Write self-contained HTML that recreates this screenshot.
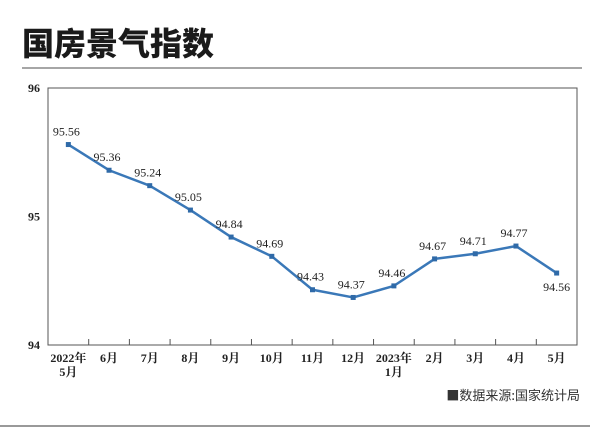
<!DOCTYPE html>
<html><head><meta charset="utf-8"><style>
body{margin:0;background:#fff;width:600px;height:429px;overflow:hidden}
svg{display:block}
</style></head><body>
<svg width="600" height="429" viewBox="0 0 600 429">
<text x="22" y="55" font-family="'Noto Sans CJK SC','WenQuanYi Zen Hei',sans-serif" font-weight="900" font-size="32" fill="#1a1a1a">国房景气指数</text>
<line x1="22" y1="68" x2="582" y2="68" stroke="#888" stroke-width="1.5"/>
<rect x="48" y="88" width="529" height="257" fill="none" stroke="#555" stroke-width="1"/>
<g id="yaxis" font-family="'Liberation Serif',serif" font-size="12" fill="#222" font-weight="bold"></g>
<g id="xaxis" font-family="'Liberation Serif','Noto Serif CJK SC',serif" font-size="12" fill="#222" font-weight="bold"></g>
<g id="series"></g>
<text x="580" y="400" text-anchor="end" font-family="'Noto Sans CJK SC',sans-serif" font-size="13" fill="#333">■数据来源:国家统计局</text>
<line x1="0" y1="426" x2="590" y2="426" stroke="#999" stroke-width="2"/>
</svg>
<script>
const categories=["2022年\n5月","6月","7月","8月","9月","10月","11月","12月","2023年\n1月","2月","3月","4月","5月"];
const values=[95.56,95.36,95.24,95.05,94.84,94.69,94.43,94.37,94.46,94.67,94.71,94.77,94.56];
const yTicks=[94,95,96];
const NS="http://www.w3.org/2000/svg";
const L=48,R=577,T=88,B=345,yMin=94,yMax=96;
const step=(R-L)/categories.length;
const x=i=>L+step*(i+0.5);
const y=v=>B-(v-yMin)/(yMax-yMin)*(B-T);
function mk(tag,attrs,parent){const e=document.createElementNS(NS,tag);for(const k in attrs)e.setAttribute(k,attrs[k]);parent.appendChild(e);return e;}
const ya=document.getElementById('yaxis'),xa=document.getElementById('xaxis'),sg=document.getElementById('series');
yTicks.forEach(t=>{const e=mk('text',{x:40,y:y(t)+4,'text-anchor':'end'},ya);e.textContent=t;

});
categories.forEach((c,i)=>{
 if(i>0){const tk=mk('line',{x1:L+step*i,x2:L+step*i,y1:B,y2:B-6,stroke:'#555'},xa);
 
 }
 const lines=c.split('\n');
 lines.forEach((s,j)=>{const e=mk('text',{x:x(i),y:B+17+j*14,'text-anchor':'middle'},xa);e.textContent=s;
 
 });
});
const pts=values.map((v,i)=>x(i)+','+y(v)).join(' ');
const pl=mk('polyline',{points:pts,fill:'none',stroke:'#3a78b8','stroke-width':2.5,'stroke-linejoin':'round'},sg);


values.forEach((v,i)=>{
 const m=mk('rect',{x:x(i)-2.5,y:y(v)-2.5,width:5,height:5,fill:'#2f6aa8'},sg);
 
 
 const below=i===values.length-1;
 const t=mk('text',{x:x(i)+(below?0:-2),y:below?y(v)+18:y(v)-9,'text-anchor':'middle','font-family':"'Liberation Serif',serif",'font-size':12,fill:'#222'},sg);
 t.textContent=v.toFixed(2);
 
 
});
</script>
</body></html>
